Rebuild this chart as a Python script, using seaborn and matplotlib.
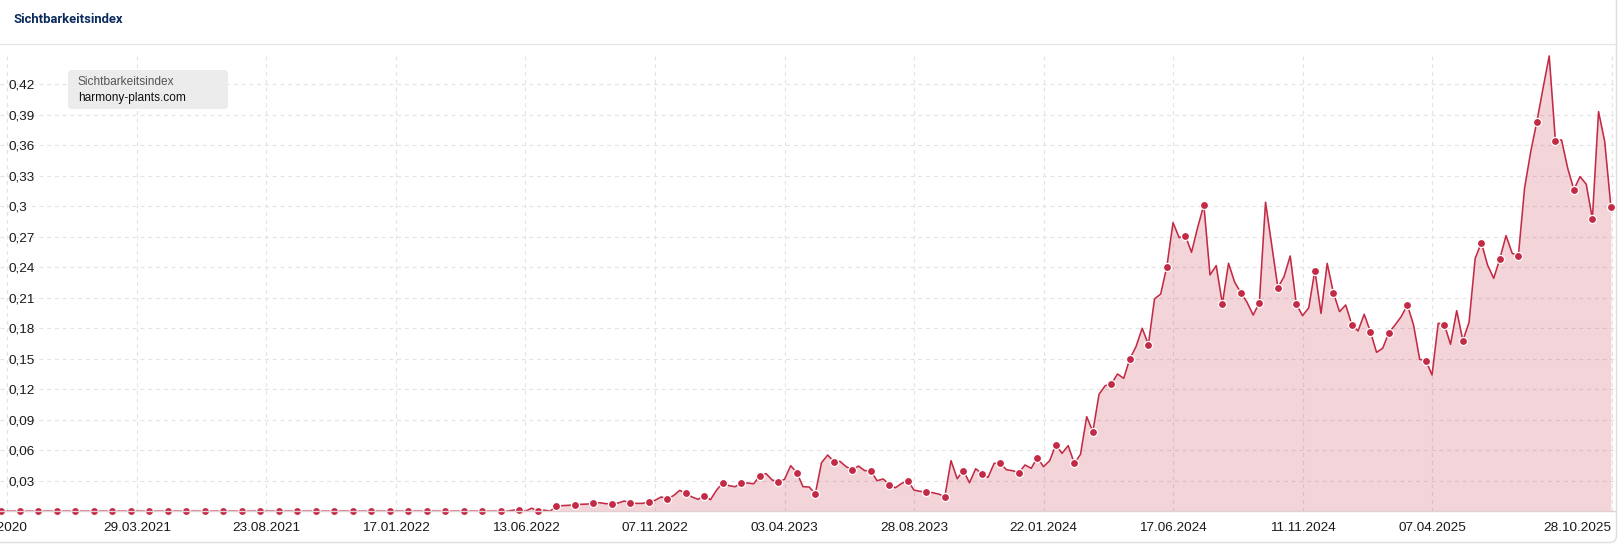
import numpy as np
import pandas as pd
import matplotlib
matplotlib.use("Agg")
import matplotlib.pyplot as plt
import matplotlib.dates as mdates
from matplotlib.patches import FancyBboxPatch
from matplotlib.lines import Line2D
from matplotlib.transforms import IdentityTransform, ScaledTranslation
import seaborn as sns

# ---------------- data ----------------
start_date = "2020-10-26"          # first weekly observation (Monday)
visibility = [
    # 2020-10 .. 2022-03 (flat at zero)
    0.0, 0.0, 0.0, 0.0, 0.0, 0.0, 0.0, 0.0, 0.0, 0.0,
    0.0, 0.0, 0.0, 0.0, 0.0, 0.0, 0.0, 0.0, 0.0, 0.0,
    0.0, 0.0, 0.0, 0.0, 0.0, 0.0, 0.0, 0.0, 0.0, 0.0,
    0.0, 0.0, 0.0, 0.0, 0.0, 0.0, 0.0, 0.0, 0.0, 0.0,
    0.0, 0.0, 0.0, 0.0, 0.0, 0.0, 0.0, 0.0, 0.0, 0.0,
    0.0, 0.0, 0.0, 0.0, 0.0, 0.0, 0.0, 0.0, 0.0, 0.0,
    0.0, 0.0, 0.0, 0.0, 0.0, 0.0, 0.0, 0.0, 0.0, 0.0,
    0.0, 0.0, 0.0, 0.0, 0.0, 0.0, 0.0, 0.0, 0.0005, 0.0,
    0.0, 0.0, 0.0, 0.001, 0.0015, 0.0, 0.003, 0.0, 0.001, 0.0,
    0.005, 0.0055, 0.0058, 0.0064, 0.0068, 0.007, 0.0077, 0.0084, 0.0074, 0.0074,
    0.008, 0.010, 0.0084, 0.0077, 0.0077, 0.0094, 0.0107, 0.014, 0.0123, 0.0153,
    0.0205, 0.0176, 0.014, 0.0117, 0.0153, 0.0113, 0.0209, 0.028, 0.0251, 0.0241,
    0.028, 0.0277, 0.027, 0.035, 0.037, 0.0307, 0.029, 0.0313, 0.0448, 0.0379,
    0.0241, 0.0238, 0.0172, 0.0477, 0.0553, 0.0487, 0.049, 0.0438, 0.0409, 0.0444,
    0.0399, 0.0399, 0.030, 0.0317, 0.0261, 0.0231, 0.0274, 0.030, 0.0208, 0.0195,
    0.0192, 0.0182, 0.0169, 0.0143, 0.0497, 0.032, 0.0399, 0.028, 0.0418, 0.0369,
    0.0333, 0.0471, 0.0471, 0.0408, 0.0398, 0.0379, 0.0455, 0.0422, 0.0527, 0.0438,
    0.0497, 0.0656, 0.0569, 0.0645, 0.0470, 0.0560, 0.093, 0.0783, 0.115, 0.1235,
    0.1252, 0.135, 0.1307, 0.150, 0.1619, 0.180, 0.164, 0.2088, 0.2137, 0.2406,
    0.2839, 0.2691, 0.2711, 0.2547, 0.2793, 0.3012, 0.2324, 0.2416, 0.2042, 0.2439,
    0.2252, 0.215, 0.2055, 0.193, 0.2052, 0.304, 0.262, 0.220, 0.2307, 0.2511,
    0.2035, 0.1924, 0.2000, 0.2367, 0.1946, 0.2438, 0.215, 0.1963, 0.2029, 0.1835,
    0.1773, 0.1937, 0.1767, 0.1563, 0.1603, 0.1757, 0.1832, 0.1914, 0.2029, 0.1832,
    0.1494, 0.1481, 0.134, 0.1849, 0.1835, 0.1642, 0.1973, 0.1678, 0.1858, 0.2488,
    0.2642, 0.2422, 0.2291, 0.2485, 0.2711, 0.2537, 0.2514, 0.3176, 0.3537, 0.3833,
    0.4161, 0.4479, 0.3646, 0.3652, 0.3374, 0.3164, 0.3292, 0.3217, 0.2878, 0.3931,
    0.3636, 0.2996,
]
tick_dates = ["2020-11-02", "2021-03-29", "2021-08-23", "2022-01-17", "2022-06-13",
              "2022-11-07", "2023-04-03", "2023-08-28", "2024-01-22", "2024-06-17",
              "2024-11-11", "2025-04-07", "2025-10-28"]
tick_labels = ["02.11.2020", "29.03.2021", "23.08.2021", "17.01.2022", "13.06.2022",
               "07.11.2022", "03.04.2023", "28.08.2023", "22.01.2024", "17.06.2024",
               "11.11.2024", "07.04.2025", "28.10.2025"]
y_ticks = [0.03, 0.06, 0.09, 0.12, 0.15, 0.18, 0.21, 0.24, 0.27, 0.30, 0.33, 0.36, 0.39, 0.42]
title = "Sichtbarkeitsindex"
legend_title = "Sichtbarkeitsindex"
legend_domain = "harmony-plants.com"

dates = pd.date_range(start_date, periods=len(visibility), freq="7D")
df = pd.DataFrame({"date": dates, "value": visibility})
df_markers = df.iloc[::3]

# ---------------- style ----------------
sns.set_theme(style="white")
plt.rcParams["font.family"] = ["Liberation Sans", "DejaVu Sans"]

LINE = "#c32a45"
GRID = "#e3e3e3"

W, H = 1618, 544
fig = plt.figure(figsize=(W / 100, H / 100), dpi=100)
fig.patch.set_facecolor("white")

base_y = 511.2
top_y = 53.8
ax = fig.add_axes([0, (H - base_y) / H, 1616 / W, (base_y - top_y) / H])
ax.set_facecolor("white")

# time axis limits (pixel <-> date mapping of the reference)
d0 = mdates.date2num(pd.Timestamp(start_date))
px_per_day = 0.881
ax.set_xlim(d0 - 1.3 / px_per_day, d0 + (1616 - 1.3) / px_per_day)
ax.set_ylim(0, 0.45)

# grid
ax.set_axisbelow(True)
ax.grid(True, axis="both", color=GRID, lw=0.8, ls=(0, (3.5, 3.5)))

# fill + line + markers
ax.fill_between(df["date"], 0, df["value"], color=LINE, alpha=0.2, lw=0, zorder=2)
sns.lineplot(data=df, x="date", y="value", ax=ax, color=LINE, lw=1.15,
             estimator=None, zorder=3)
sns.scatterplot(data=df_markers, x="date", y="value", ax=ax, color=LINE, s=34,
                edgecolor="white", linewidth=0.9, zorder=4, clip_on=False)

# ticks
ax.set_xticks([mdates.date2num(pd.Timestamp(d)) for d in tick_dates])
ax.set_xticklabels(tick_labels)
ax.set_yticks(y_ticks)
ax.set_yticklabels([f"{v:.2f}".rstrip("0").replace(".", ",") for v in y_ticks])
ax.tick_params(axis="x", length=0, pad=7.5, labelsize=9.7, labelcolor="#1a1a1a")
ax.tick_params(axis="y", length=0, pad=-5.8, labelsize=9.7, labelcolor="#1a1a1a")
for lab in ax.get_yticklabels():
    lab.set_horizontalalignment("left")
xl = ax.get_xticklabels()
xl[-1].set_horizontalalignment("right")
xl[0].set_transform(xl[0].get_transform() + ScaledTranslation(-14 / 100, 0, fig.dpi_scale_trans))

ax.set_xlabel("")
ax.set_ylabel("")
for s in ["top", "right", "left"]:
    ax.spines[s].set_visible(False)
ax.spines["bottom"].set_color("#e2d0d3")
ax.spines["bottom"].set_linewidth(1.0)
ax.spines["bottom"].set_zorder(5)

# header
fig.text(13 / W, 1 - 19.5 / H, title, fontsize=9.4, fontweight="bold",
         color="#0b2b5c", va="center", ha="left", family=["Roboto", "DejaVu Sans"])
fig.add_artist(Line2D([0, 1], [1 - 44 / H, 1 - 44 / H], color="#e6e6e6", lw=1.0))

# card border (right & bottom visible, rounded corner)
card = FancyBboxPatch((-30, 1.5), 1616.5 + 30, 620,
                      boxstyle="round,pad=0,rounding_size=7",
                      fc="none", ec="#dedede", lw=1.0)
card.set_transform(IdentityTransform())
fig.add_artist(card)

# legend box
leg = FancyBboxPatch((68, H - 109), 160, 39, boxstyle="round,pad=0,rounding_size=4",
                     fc="#ececec", ec="none")
leg.set_transform(IdentityTransform())
fig.add_artist(leg)
fig.text(78 / W, 1 - 82 / H, legend_title, fontsize=8.6, color="#555555",
         va="center", ha="left")
fig.text(78 / W, 1 - 97.5 / H, legend_domain, fontsize=8.6, color="#111111",
         va="center", ha="left")

fig.savefig("out.png", dpi=100, facecolor="white")
